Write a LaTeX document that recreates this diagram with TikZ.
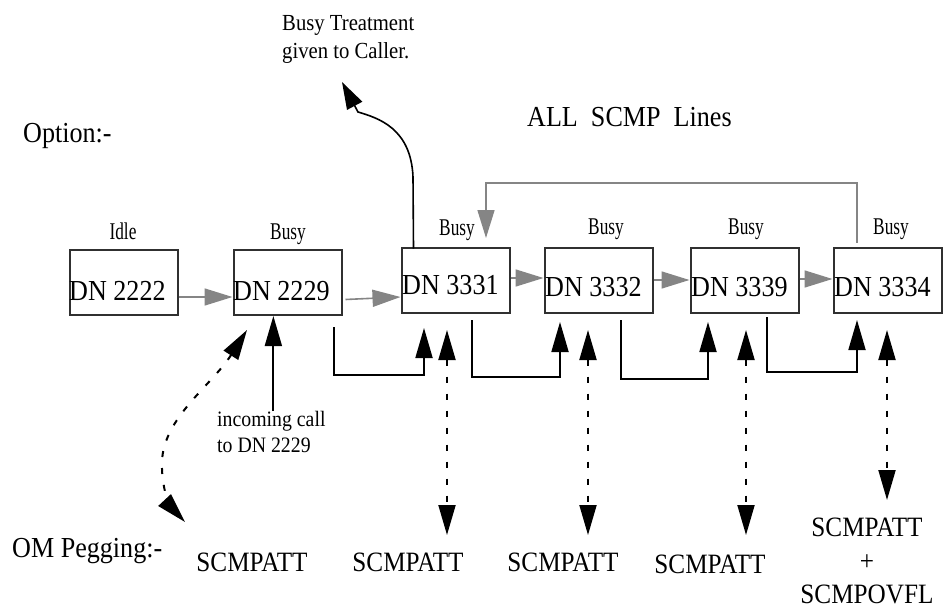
\documentclass[tikz,border=0pt]{standalone}
\usepackage{fontspec}
\setmainfont[FakeStretch=0.9]{Liberation Serif}
\newfontfamily\narrowserif[FakeStretch=0.72]{Liberation Serif}
\usetikzlibrary{arrows.meta}

\definecolor{boxline}{HTML}{303030}
\definecolor{flowgray}{HTML}{858585}

\tikzset{
  box/.style={draw=boxline, line width=2pt, minimum width=108pt, minimum height=65pt, inner sep=0pt},
  dn/.style={font=\fontsize{29}{34}\selectfont, inner sep=0pt, anchor=base west},
  state/.style={font=\narrowserif\fontsize{24}{28}\selectfont, inner sep=0pt, anchor=base},
  big/.style={font=\fontsize{29}{34}\selectfont, inner sep=0pt, anchor=base west},
  omname/.style={font=\fontsize{28}{33.5}\selectfont, inner sep=0pt, anchor=base},
  note/.style={font=\fontsize{22}{26}\selectfont, inner sep=0pt, align=left, anchor=north west},
  flow/.style={draw=flowgray, line width=1.6pt, -{Triangle[length=28pt,width=17pt]}, flowgray},
  hit/.style={draw=black, line width=1.8pt, -{Triangle[length=30pt,width=17pt]}},
  peg/.style={draw=black, line width=2pt, dash pattern=on 6pt off 11pt,
              {Triangle[length=30pt,width=17pt]}-{Triangle[length=30pt,width=17pt]}}
}

\begin{document}
\begin{tikzpicture}[x=1pt, y=-1pt]
\useasboundingbox (0,0) rectangle (945,610);

% headings
\node[big] (option) at (23,142) {Option:-};
\node[big] (allscmp) at (527,126) {ALL\ \ SCMP\ \ Lines};
\node[note, font=\fontsize{23}{28}\selectfont] (treat) at (282,15) {Busy Treatment\\given to Caller.};
\node[big] (om) at (12,557) {OM Pegging:-};

% the six directory numbers
\node[box] (n2222) at (123.5,282.5) {};
\node[box] (n2229) at (287.5,282.5) {};
\node[box] (n3331) at (455.5,280) {};
\node[box] (n3332) at (598.5,280) {};
\node[box] (n3339) at (744.5,280) {};
\node[box] (n3334) at (887.5,280) {};

\node[dn] (t2222) at (69,300) {DN 2222};
\node[dn] (t2229) at (233,300) {DN 2229};
\node[dn] (t3331) at (402,294) {DN 3331};
\node[dn] (t3332) at (545,296) {DN 3332};
\node[dn] (t3339) at (691,296) {DN 3339};
\node[dn] (t3334) at (834,296) {DN 3334};

% line states
\node[state] (s2222) at (123,239) {Idle};
\node[state] (s2229) at (288,239) {Busy};
\node[state] (s3331) at (457,235) {Busy};
\node[state] (s3332) at (606,234) {Busy};
\node[state] (s3339) at (746,234) {Busy};
\node[state] (s3334) at (891,234) {Busy};

% hunting sequence
\draw[flow] ([yshift=-14.5pt]n2222.east) -- ([yshift=-14.5pt]n2229.west);
\draw[flow] ([xshift=3pt,yshift=-17pt]n2229.east) -- ([yshift=-17pt]n3331.west);
\draw[flow] ([yshift=2pt]n3331.east) -- ([yshift=2pt]n3332.west);
\draw[flow] (n3332.east) -- (n3339.west);
\draw[flow] ([yshift=1pt]n3339.east) -- ([yshift=1pt]n3334.west);

% wrap-around from the last member back to the first SCMP line
\coordinate (loopL) at (486,183);
\coordinate (loopEnd) at (486,238);
\draw[flow] ([xshift=-30.5pt,yshift=4pt]n3334.north) |- (loopL) -- (loopEnd);

% busy treatment
\coordinate (busyTip) at (342,82);
\draw[hit, line width=1.6pt, -{Triangle[length=27pt,width=17pt]}]
  ([xshift=-42pt,yshift=-2pt]n3331.north) -- (413,177)
  .. controls (411,128) and (378,118) .. (358,112) -- (busyTip);

% incoming call
\node[note] (incall) at (217,411) {incoming call\\to DN 2229};
\draw[hit] ([xshift=2pt]incall.north) -- ([xshift=2pt]incall.north |- n2229.south);

% hand-over between group members
\draw[hit] (334,327) -- (334,375) -| (424,328);
\draw[hit] (472,320) -- (472,377) -| (560,322);
\draw[hit] (621,320) -- (621,379) -| (708,322);
\draw[hit] (767,317) -- (767,372) -| (857,320);

% OM register names
\node[omname] (p1) at (252,571) {SCMPATT};
\node[omname] (p2) at (408,571) {SCMPATT};
\node[omname] (p3) at (563,571) {SCMPATT};
\node[omname] (p4) at (710,573) {SCMPATT};
\node[omname, align=center, anchor=north] (p5) at (867,518) {SCMPATT\\+\\SCMPOVFL};

% pegging links
\coordinate (g0a) at (247,330);
\coordinate (g0b) at (185,522);
\draw[peg] (g0a) .. controls (212,385) and (163,418) .. (162,462)
  .. controls (161,490) and (172,508) .. (g0b);
\coordinate (g1a) at (447,330);
\coordinate (g1b) at (447,535);
\draw[peg] (g1a) -- (g1b);
\coordinate (g2a) at (588,330);
\coordinate (g2b) at (588,535);
\draw[peg] (g2a) -- (g2b);
\coordinate (g3a) at (746,330);
\coordinate (g3b) at (746,535);
\draw[peg] (g3a) -- (g3b);
\coordinate (g4a) at (887,330);
\coordinate (g4b) at (887,500);
\draw[peg] (g4a) -- (g4b);
\end{tikzpicture}
\end{document}
